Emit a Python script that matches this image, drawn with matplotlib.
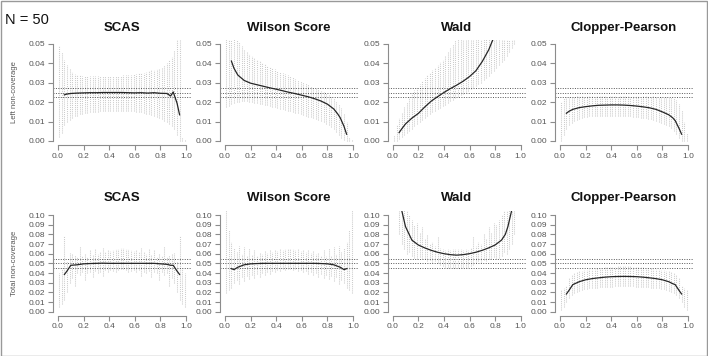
import numpy as np
import matplotlib
matplotlib.use('Agg')
import matplotlib.pyplot as plt
from matplotlib.patches import Rectangle

plt.rcParams['font.family'] = ['Liberation Sans', 'DejaVu Sans']

N_TEXT = 'N = 50'
METHODS = ['SCAS', 'Wilson Score', 'Wald', 'Clopper-Pearson']
ROW_LABELS = ['Left non-coverage', 'Total non-coverage']
REF_LINES = [[0.0225, 0.025, 0.0275], [0.045, 0.05, 0.055]]
Y_MAX = [0.05, 0.10]

# p grid for the simulated ranges (dotted grey bars)
P_GRID = [0.01, 0.03, 0.05, 0.07, 0.09, 0.11, 0.13, 0.15, 0.17, 0.19,
          0.21, 0.23, 0.25, 0.27, 0.29, 0.31, 0.33, 0.35, 0.37, 0.39,
          0.41, 0.43, 0.45, 0.47, 0.49, 0.51, 0.53, 0.55, 0.57, 0.59,
          0.61, 0.63, 0.65, 0.67, 0.69, 0.71, 0.73, 0.75, 0.77, 0.79,
          0.81, 0.83, 0.85, 0.87, 0.89, 0.91, 0.93, 0.95, 0.97, 0.99]

# p grid for the mean curves
P_LINE = [0.05, 0.07, 0.10, 0.15, 0.20, 0.25, 0.30, 0.35, 0.40, 0.45, 0.50,
          0.55, 0.60, 0.65, 0.70, 0.75, 0.80, 0.85, 0.88, 0.90, 0.93, 0.95]

# ---- left non-coverage ----
scas_left_lo = [.002, .004, .008, .010, .011, .012, .013, .013, .014, .014,
                .0145, .0145, .015, .015, .015, .0152, .0153, .0154, .0155, .0156,
                .0156, .0157, .0157, .0157, .0157, .0157, .0157, .0156, .0155, .0154,
                .0152, .015, .0147, .0144, .0141, .0138, .0134, .013, .0125, .012,
                .0113, .0105, .0097, .0087, .0075, .006, .003, .000, .000, .000]
scas_left_hi = [.049, .046, .042, .039, .037, .0355, .0345, .034, .0338, .0336,
                .0335, .0334, .0334, .0333, .0333, .0333, .0333, .0333, .0333, .0334,
                .0334, .0335, .0335, .0336, .0337, .0338, .0339, .034, .0342, .0344,
                .0346, .0348, .035, .0353, .0356, .036, .0364, .0368, .0373, .0378,
                .0384, .039, .040, .0415, .0435, .047, .052, .056, .002, .001]
scas_left_mean = [.0238, .0242, .0245, .0247, .0248, .0249, .0249, .0250, .0250, .0250, .0250,
                  .0249, .0248, .0249, .0247, .0249, .0246, .0245, .0232, .0253, .0195, .0135]

wilson_left_lo = [.0175, .018, .019, .0195, .020, .0203, .0205, .0205, .0205, .0203,
                  .020, .0198, .0195, .0192, .019, .0187, .0184, .018, .0177, .0173,
                  .017, .0167, .0163, .016, .0157, .0153, .015, .0146, .0142, .0138,
                  .0134, .013, .0126, .0122, .0118, .0113, .0108, .0103, .0097, .009,
                  .0082, .0072, .006, .0045, .003, .0015, .0005, .000, .000, .000]
wilson_left_hi = [.060, .060, .058, .055, .053, .051, .049, .0475, .046, .045,
                  .044, .043, .042, .041, .0402, .0395, .0388, .0381, .0375, .0369,
                  .0363, .0357, .0351, .0345, .034, .0334, .0328, .0322, .0316, .031,
                  .0304, .0298, .0292, .0286, .028, .0274, .0267, .026, .0253, .0246,
                  .0238, .023, .022, .0208, .0193, .0172, .0145, .010, .002, .001]
wilson_left_mean = [.0412, .0375, .0340, .0312, .0298, .0290, .0282, .0274, .0267, .0259, .0251,
                    .0244, .0236, .0228, .0218, .0206, .0190, .0165, .0140, .0120, .0075, .0035]

wald_left_lo = [.000, .000, .001, .002, .003, .004, .005, .006, .0075, .009,
                .010, .011, .012, .013, .014, .0148, .0156, .0164, .0172, .018,
                .0188, .0196, .0204, .0212, .022, .0228, .0236, .0244, .0252, .026,
                .0268, .0276, .0284, .0292, .030, .0312, .0324, .0336, .0348, .036,
                .0375, .039, .0405, .042, .044, .046, .048, .050, .060, .080]
wald_left_hi = [.003, .008, .012, .015, .0177, .020, .0225, .0245, .0265, .028,
                .0295, .031, .0325, .034, .0353, .0366, .0378, .039, .0405, .042,
                .0438, .0458, .0478, .050, .052, .054, .056, .058, .060, .062,
                .064, .067, .070, .073, .076, .080, .084, .088, .092, .097,
                .102, .108, .115, .122, .130, .140, .150, .170, .200, .250]
wald_left_mean = [.0043, .0062, .0088, .0118, .0142, .0175, .0205, .0228, .0250, .0270, .0288,
                  .0308, .0332, .0362, .0410, .0470, .0550, .0680, .0800, .0900, .1200, .1500]

cp_left_lo = [.000, .003, .006, .008, .0095, .0105, .011, .0115, .012, .0123,
              .0125, .0127, .0128, .0129, .013, .013, .013, .013, .013, .013,
              .013, .013, .013, .013, .013, .0129, .0128, .0127, .0126, .0125,
              .0123, .0121, .0119, .0117, .0114, .0111, .0108, .0104, .010, .0095,
              .009, .0083, .0075, .0065, .0052, .0035, .0015, .000, .000, .000]
cp_left_hi = [.020, .022, .0225, .0228, .023, .023, .023, .0231, .023, .0229,
              .023, .0231, .023, .0229, .023, .0231, .023, .023, .0229, .023,
              .0231, .023, .0229, .023, .0231, .023, .023, .0229, .023, .0231,
              .023, .0229, .023, .0231, .023, .0229, .023, .023, .0229, .023,
              .0229, .0228, .0227, .0225, .022, .021, .019, .016, .010, .004]
cp_left_mean = [.0143, .0153, .0163, .0172, .0177, .0181, .0184, .0185, .0186, .0186, .0185,
                .0183, .0180, .0176, .0171, .0163, .0150, .0135, .0120, .0105, .0065, .0035]

# ---- total non-coverage ----
scas_tot_lo = [.005, .008, .012, .020, .030, .035, .027, .040, .038, .041,
               .033, .040, .041, .036, .042, .040, .041, .037, .043, .041,
               .043, .042, .041, .043, .044, .044, .043, .041, .042, .043,
               .041, .043, .037, .041, .040, .042, .036, .041, .040, .033,
               .041, .038, .040, .027, .035, .030, .020, .012, .008, .005]
scas_tot_hi = [.040, .045, .078, .052, .061, .060, .059, .057, .068, .058,
               .060, .057, .064, .059, .065, .060, .062, .066, .062, .064,
               .063, .064, .065, .065, .066, .066, .065, .065, .064, .063,
               .064, .062, .066, .062, .060, .065, .059, .064, .057, .060,
               .058, .068, .057, .059, .060, .061, .052, .078, .045, .040]
scas_tot_mean = [.0385, .0420, .0480, .0485, .0495, .0498, .0500, .0502, .0500, .0500, .0500,
                 .0500, .0500, .0500, .0500, .0500, .0495, .0490, .0480, .0480, .0420, .0385]

wilson_tot_lo = [.019, .022, .025, .030, .033, .029, .036, .032, .037, .034,
                 .038, .035, .039, .036, .040, .038, .041, .039, .042, .041,
                 .043, .042, .044, .043, .044, .044, .043, .044, .042, .043,
                 .041, .042, .039, .041, .038, .040, .036, .039, .035, .038,
                 .034, .037, .032, .036, .029, .033, .030, .025, .022, .019]
wilson_tot_hi = [.105, .085, .072, .066, .062, .068, .060, .067, .058, .066,
                 .059, .064, .058, .062, .060, .063, .061, .064, .062, .064,
                 .063, .065, .064, .065, .065, .065, .065, .064, .065, .063,
                 .064, .062, .064, .061, .063, .060, .062, .058, .064, .058,
                 .066, .058, .067, .060, .068, .062, .066, .072, .085, .105]
wilson_tot_mean = [.0445, .0435, .0460, .0485, .0495, .0498, .0500, .0500, .0500, .0500, .0500,
                   .0500, .0500, .0500, .0500, .0498, .0495, .0485, .0470, .0460, .0435, .0445]

wald_tot_lo = [.150, .120, .080, .070, .065, .060, .062, .058, .056, .055,
               .057, .054, .055, .052, .053, .050, .052, .050, .048, .047,
               .046, .045, .046, .045, .045, .045, .045, .046, .045, .046,
               .047, .048, .050, .052, .050, .053, .052, .055, .054, .057,
               .055, .056, .058, .062, .060, .065, .070, .080, .120, .150]
wald_tot_hi = [.300, .250, .200, .150, .120, .105, .100, .095, .090, .092,
               .082, .088, .075, .080, .070, .072, .068, .078, .066, .065,
               .064, .065, .064, .065, .065, .065, .065, .064, .065, .064,
               .066, .078, .068, .072, .070, .080, .075, .088, .082, .092,
               .090, .095, .100, .105, .120, .150, .200, .250, .250, .300]
wald_tot_mean = [.130, .105, .088, .074, .069, .066, .0635, .0615, .060, .059, .0585,
                 .059, .060, .0615, .0635, .066, .069, .074, .080, .088, .105, .130]

cp_tot_lo = [.002, .005, .010, .014, .017, .019, .020, .021, .022, .023,
             .0235, .024, .0245, .025, .025, .0255, .0255, .026, .026, .026,
             .026, .0262, .0262, .0262, .0262, .0262, .0262, .0262, .0262, .026,
             .026, .026, .026, .0255, .0255, .025, .025, .0245, .024, .0235,
             .023, .022, .021, .020, .019, .017, .014, .010, .005, .002]
cp_tot_hi = [.022, .025, .027, .035, .038, .040, .041, .042, .042, .043,
             .043, .044, .044, .044, .045, .045, .045, .046, .046, .046,
             .046, .046, .047, .047, .047, .047, .047, .047, .046, .046,
             .046, .046, .046, .045, .045, .045, .044, .044, .044, .043,
             .043, .042, .042, .041, .040, .038, .035, .027, .025, .022]
cp_tot_mean = [.0183, .0220, .0280, .0310, .0330, .0342, .0350, .0357, .0362, .0364, .0365,
               .0364, .0362, .0357, .0350, .0342, .0330, .0310, .0290, .0280, .0220, .0183]

LOWS = [[scas_left_lo, wilson_left_lo, wald_left_lo, cp_left_lo],
        [scas_tot_lo, wilson_tot_lo, wald_tot_lo, cp_tot_lo]]
HIGHS = [[scas_left_hi, wilson_left_hi, wald_left_hi, cp_left_hi],
         [scas_tot_hi, wilson_tot_hi, wald_tot_hi, cp_tot_hi]]
MEANS = [[scas_left_mean, wilson_left_mean, wald_left_mean, cp_left_mean],
         [scas_tot_mean, wilson_tot_mean, wald_tot_mean, cp_tot_mean]]

# layout in pixels (R style panels)
W, H = 708, 356
X_ZERO = [58, 225, 392.7, 560]
X_SPAN = 128
ROW_PX = [(141, 44), (311.7, 215)]   # pixel y of 0 and of ymax
TITLE_Y = [28, 198]

AX_COL = '#8c8c8c'
TXT_COL = '#555555'

fig = plt.figure(figsize=(W / 100, H / 100), dpi=100)

for r in range(2):
    y0, y1 = ROW_PX[r]
    pad = 0.04 * (y0 - y1)
    bot_px, top_px = y0 + pad, y1 - pad
    ymax = Y_MAX[r]
    for c in range(4):
        xl = X_ZERO[c] - 0.04 * X_SPAN
        ax = fig.add_axes([xl / W, 1 - bot_px / H, 1.08 * X_SPAN / W, (bot_px - top_px) / H])
        ax.set_xlim(-0.04, 1.04)
        ax.set_ylim(-0.04 * ymax, 1.04 * ymax)

        ax.vlines(P_GRID, LOWS[r][c], HIGHS[r][c], colors='#cbcbcb',
                  linestyles=(0, (1, 1)), linewidth=0.75)
        for ref in REF_LINES[r]:
            ax.axhline(ref, color='#555555', linestyle=(0, (1, 1.5)), linewidth=0.7)
        ax.plot(P_LINE, MEANS[r][c], color='#262626', linewidth=0.9)

        for s in ['top', 'right']:
            ax.spines[s].set_visible(False)
        ax.spines['left'].set_bounds(0, ymax)
        ax.spines['bottom'].set_bounds(0, 1)
        for s in ['left', 'bottom']:
            ax.spines[s].set_color(AX_COL)
            ax.spines[s].set_linewidth(0.8)
        ax.set_xticks([0, 0.2, 0.4, 0.6, 0.8, 1.0])
        ax.set_xticklabels(['0.0', '0.2', '0.4', '0.6', '0.8', '1.0'])
        yt = np.round(np.arange(0, ymax + 1e-9, 0.01), 2)
        ax.set_yticks(yt)
        ax.set_yticklabels(['%.2f' % v for v in yt])
        ax.tick_params(length=3.5, width=0.8, color=AX_COL, labelcolor=TXT_COL,
                       labelsize=6, pad=2)

        fig.text((X_ZERO[c] + X_SPAN / 2) / W, 1 - TITLE_Y[r] / H, METHODS[c],
                 ha='center', va='center', fontsize=9.5, fontweight='bold', color='#111111')

    fig.text(15 / W, 1 - (y0 + y1) / 2 / H, ROW_LABELS[r], rotation=90,
             ha='center', va='center', fontsize=5.5, color=TXT_COL)

fig.text(5 / W, 1 - 20 / H, N_TEXT, ha='left', va='center', fontsize=10.5, color='#111111')

fig.patches.append(Rectangle((0.5 / W, 0.5 / H), 1 - 1.5 / W, 1 - 1.5 / H,
                             transform=fig.transFigure, fill=False,
                             edgecolor='#999999', linewidth=1))

fig.savefig('out.png', dpi=100)
